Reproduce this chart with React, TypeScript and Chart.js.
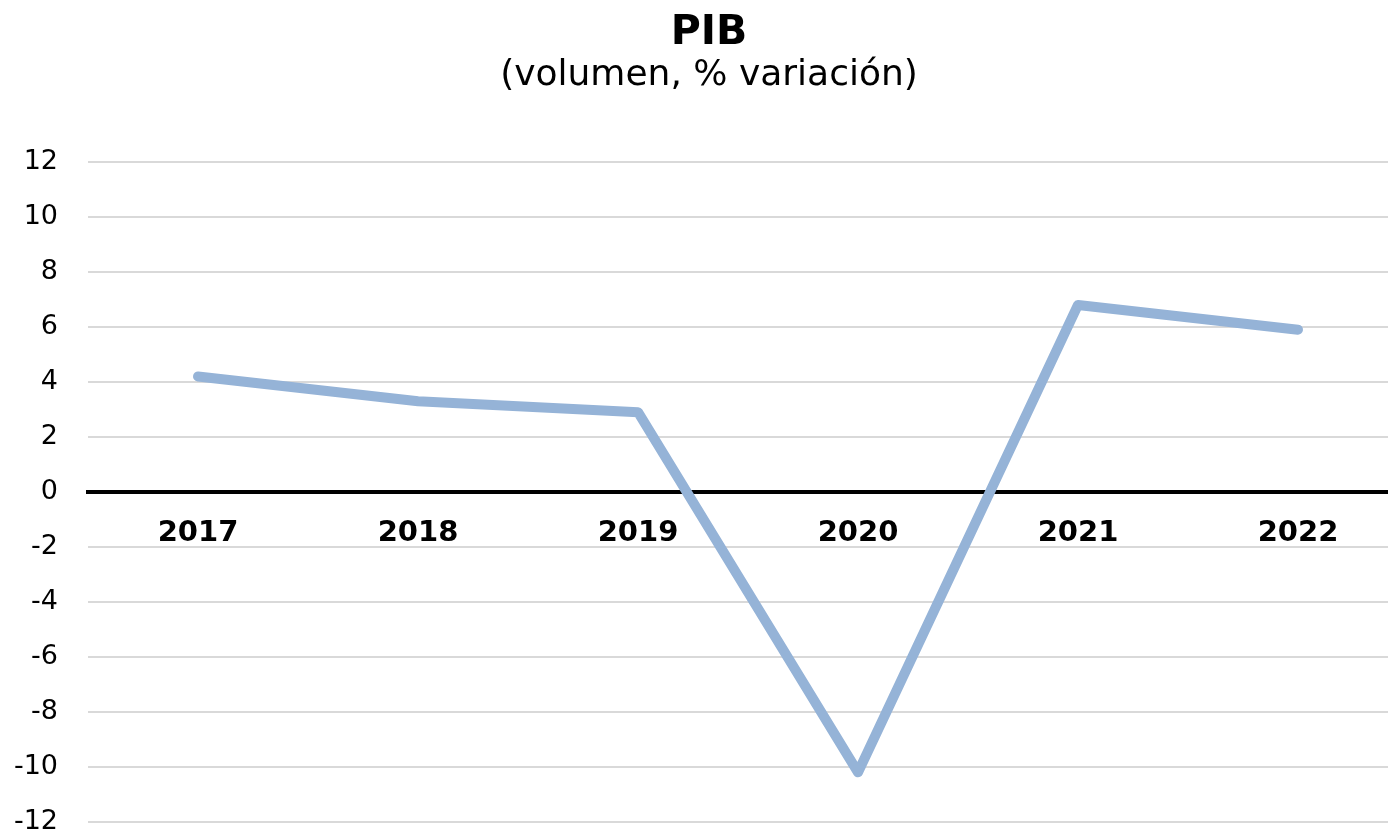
import React, { useEffect, useRef } from "react";
import { Chart, registerables } from "chart.js";

Chart.register(...registerables);

const categories: string[] = ["2017", "2018", "2019", "2020", "2021", "2022"];
const pibValues: number[] = [4.2, 3.3, 2.9, -10.2, 6.8, 5.9];
const titleText = "PIB";
const subtitleText = "(volumen, % variación)";
const yMin = -12;
const yMax = 12;
const yStep = 2;

const FONT = "'DejaVu Sans', Verdana, sans-serif";
const CANVAS_W = 1418;
const CANVAS_H = 868;

export default function App() {
  const canvasRef = useRef<HTMLCanvasElement | null>(null);

  useEffect(() => {
    const canvas = canvasRef.current;
    if (!canvas) return;
    const chart = new Chart(canvas, {
      type: "line",
      data: {
        labels: categories,
        datasets: [
          {
            data: pibValues,
            borderColor: "#95B3D7",
            borderWidth: 10,
            pointRadius: 0,
            pointHoverRadius: 0,
            tension: 0,
            borderJoinStyle: "round",
            borderCapStyle: "round",
            fill: false,
          },
        ],
      },
      options: {
        responsive: false,
        animation: false,
        devicePixelRatio: 1,
        layout: { padding: { left: 10, right: 10, top: 0, bottom: 0 } },
        plugins: {
          legend: { display: false },
          tooltip: { enabled: false },
          title: {
            display: true,
            text: titleText,
            color: "#000",
            font: { family: FONT, size: 41, weight: "bold", lineHeight: 1.1 },
            padding: { top: 11, bottom: 0 },
          },
          subtitle: {
            display: true,
            text: subtitleText,
            color: "#000",
            font: { family: FONT, size: 36, weight: "normal", lineHeight: 1.1 },
            padding: { top: 0, bottom: 66.3 },
          },
        },
        scales: {
          x: {
            type: "category",
            offset: true,
            position: { y: 0 } as any,
            grid: { display: false, drawTicks: false },
            border: { display: true, color: "#000", width: 4 },
            ticks: {
              color: "#000",
              font: { family: FONT, size: 29, weight: "bold" },
              padding: 24,
              maxRotation: 0,
              autoSkip: false,
            },
          },
          y: {
            type: "linear",
            min: yMin,
            max: yMax,
            grid: { color: "#D9D9D9", lineWidth: 2, drawTicks: false },
            border: { display: false },
            ticks: {
              stepSize: yStep,
              color: "#000",
              font: { family: FONT, size: 27 },
              padding: 30,
            },
            afterFit: (scale: any) => {
              scale.width = 78;
            },
          },
        },
      },
    });
    return () => chart.destroy();
  }, []);

  return (
    <div
      style={{
        position: "fixed",
        left: 0,
        top: 0,
        width: CANVAS_W,
        height: CANVAS_H,
        background: "#fff",
        overflow: "hidden",
      }}
    >
      <canvas ref={canvasRef} width={CANVAS_W} height={CANVAS_H} />
    </div>
  );
}
